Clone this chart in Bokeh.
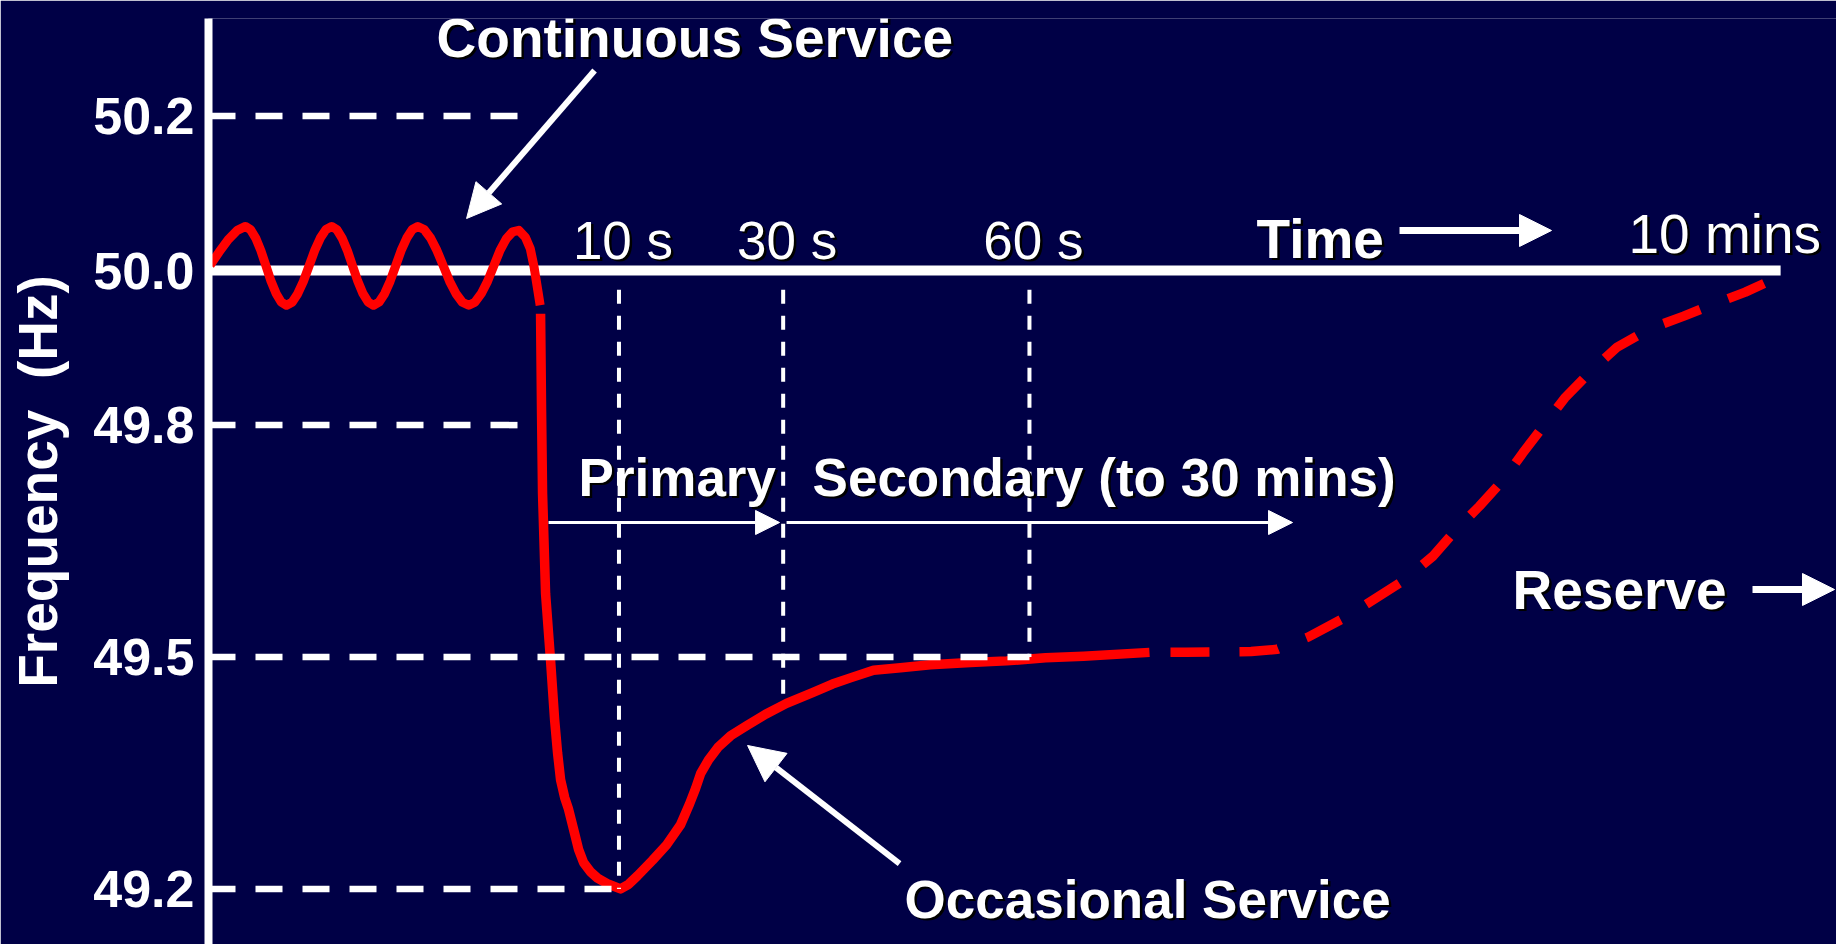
from bokeh.plotting import figure
from bokeh.models import (Range1d, FixedTicker, PrintfTickFormatter, LabelSet,
                          ColumnDataSource, Arrow, NormalHead)
from bokeh.embed import file_html
from bokeh.resources import INLINE
from bokeh.core.properties import value

# ---------------- data ----------------
# x is a schematic time position (seconds near the event, compressed afterwards)
osc_t = [-39.8, -38.7, -37.6, -36.5, -35.5,
         -34.88, -34.25, -33.63, -33.0, -32.38, -31.75, -31.13, -30.5,
         -29.81, -29.13, -28.44, -27.75, -27.06, -26.38, -25.69, -25.0,
         -24.36, -23.73, -23.09, -22.45, -21.81, -21.18, -20.54, -19.9,
         -19.23, -18.55, -17.88, -17.2, -16.53, -15.85, -15.18, -14.5,
         -13.73, -12.95, -12.18, -11.4, -10.63, -9.85, -9.08, -8.3,
         -7.54, -6.78, -6.01, -5.25, -4.49, -3.73, -2.96, -2.2,
         -1.4, -0.8, -0.35, 0.1, 0.4]
osc_hz = [50.007, 50.024, 50.040, 50.052, 50.057,
          50.053, 50.042, 50.026, 50.006, 49.986, 49.970, 49.959, 49.955,
          49.959, 49.970, 49.986, 50.006, 50.026, 50.042, 50.053, 50.057,
          50.053, 50.042, 50.026, 50.006, 49.986, 49.970, 49.959, 49.955,
          49.959, 49.970, 49.986, 50.006, 50.026, 50.042, 50.053, 50.057,
          50.053, 50.042, 50.026, 50.006, 49.986, 49.970, 49.959, 49.955,
          49.959, 49.970, 49.986, 50.006, 50.026, 50.041, 50.050, 50.052,
          50.043, 50.028, 50.005, 49.975, 49.955]

resp_t = [0.45, 0.57, 0.69, 1.06, 1.67, 2.16, 2.52, 2.89, 3.39, 3.86, 4.59, 5.08, 5.69,
          6.54, 7.39, 8.73, 10.19, 11.17, 12.26, 14.09, 15.80, 17.50, 18.60, 19.33, 19.94,
          20.91, 22.13, 23.59, 25.54, 27.86, 30.41, 33.58, 36.0, 38.19, 41.0, 44.29, 47.93,
          52.80, 57.21, 61.96, 66.59, 74.62]
resp_hz = [49.944, 49.817, 49.712, 49.582, 49.495, 49.419, 49.376, 49.341, 49.318, 49.303,
           49.272, 49.251, 49.234, 49.222, 49.214, 49.206, 49.200, 49.206, 49.217, 49.237,
           49.257, 49.283, 49.310, 49.330, 49.349, 49.367, 49.384, 49.398, 49.411, 49.426,
           49.440, 49.454, 49.465, 49.473, 49.483, 49.486, 49.490, 49.493, 49.495, 49.499,
           49.501, 49.506]

reserve_t = [74.62, 79.0, 87.0, 90.2, 94.0, 98.6, 105.6, 109.1, 111.9, 114.8, 117.7, 120.1,
             122.9, 125.2, 128.7, 131.6, 135.6, 139.7, 143.7, 147.2, 151.3]
reserve_hz = [49.506, 49.506, 49.507, 49.510, 49.526, 49.552, 49.599, 49.630, 49.664, 49.695,
              49.729, 49.764, 49.803, 49.835, 49.873, 49.901, 49.925, 49.941, 49.958, 49.972,
              49.992]

hz_ticks = [49.2, 49.5, 49.8, 50.0, 50.2]
hz_tick_labels = ["49.2", "49.5", "49.8", "50.0", "50.2"]

ref_hz = [50.2, 49.8, 49.5, 49.2]          # dashed reference levels
ref_end_t = [-1.9, -1.9, 60.0, 10.0]        # where each reference level stops

time_marks = [10, 30, 60]
time_labels = ["10 s", "30 s", "60 s"]
mark_low_hz = [49.2, 49.438, 49.5]          # where each time marker meets the curve
mark_top_hz = 49.975

end_t = 151.5
end_label = "10 mins"

# ---------------- layout helpers ----------------
BG = "#000046"
FONT = "Liberation Sans"
W, H = 1836, 944
T0, T1 = -40.0, 158.307
HZ0, HZ1 = 49.12808, 50.32601


def px_t(x):
    return (x - 536.3) / 8.21


def px_hz(y):
    return 50.0 - (y - 270.0) / 773.0


p = figure(width=W, height=H, output_backend="svg", toolbar_location=None,
           x_range=Range1d(T0, T1), y_range=Range1d(HZ0, HZ1),
           x_axis_location=None, y_axis_location="left",
           min_border_left=208, min_border_right=0, min_border_top=18, min_border_bottom=0,
           background_fill_color=BG, border_fill_color=BG, outline_line_color=None)
p.grid.visible = False

ax = p.yaxis[0]
ax.ticker = FixedTicker(ticks=hz_ticks)
ax.formatter = PrintfTickFormatter(format="%.1f")
ax.axis_line_color = "white"
ax.axis_line_width = 8
ax.major_tick_line_color = None
ax.minor_tick_line_color = None
ax.major_tick_out = 0
ax.major_tick_in = 0
ax.major_label_standoff = 14
ax.major_label_text_color = "white"
ax.major_label_text_font = FONT
ax.major_label_text_font_size = "52px"
ax.major_label_text_font_style = "bold"
ax.axis_label = "Frequency\u00a0 (Hz)"
ax.axis_label_text_color = "white"
ax.axis_label_text_font = FONT
ax.axis_label_text_font_size = "55px"
ax.axis_label_text_font_style = "bold"
ax.axis_label_standoff = 21

# tick label shadows (drawn beneath the axis)
tick_src = ColumnDataSource(dict(x=[T0] * len(hz_ticks), y=hz_ticks, text=hz_tick_labels))
p.add_layout(LabelSet(x="x", y="y", text="text", source=tick_src, level="underlay",
                      x_offset=-14 + 2.5, y_offset=-2.5, text_align="right",
                      text_baseline="middle", text_color="black", text_font=value(FONT),
                      text_font_size="52px", text_font_style="bold"))

# time axis (50.0 Hz line)
p.line([T0, end_t], [50.0, 50.0], line_color="white", line_width=10)

# frequency curve
p.line(osc_t, osc_hz, line_color="#FF0000", line_width=9, line_join="round")
p.line(resp_t, resp_hz, line_color="#FF0000", line_width=9.5, line_join="round")
p.line(reserve_t, reserve_hz, line_color="#FF0000", line_width=9.5, line_dash="39 30",
       line_dash_offset=48)

# dashed reference levels and time markers
p.segment(x0=[T0] * len(ref_hz), y0=ref_hz, x1=ref_end_t, y1=ref_hz,
          line_color="white", line_width=6.5, line_dash="27 20")
p.segment(x0=time_marks, y0=[mark_top_hz] * len(time_marks), x1=time_marks, y1=mark_low_hz,
          line_color="white", line_width=4, line_dash="14 12")


def add_labels(xs, ys, texts, size, bold=True, align="left", dx0=0):
    style = "bold" if bold else "normal"
    src = ColumnDataSource(dict(x=xs, y=ys, text=texts))
    for col, dx, dy in (("black", 2.5, -2.5), ("white", 0, 0)):
        p.add_layout(LabelSet(x="x", y="y", text="text", source=src,
                              x_offset=dx0 + dx, y_offset=dy, text_align=align,
                              text_baseline="alphabetic", text_color=col,
                              text_font=value(FONT), text_font_size=size,
                              text_font_style=style))


def add_text(xp, yp, text, size, bold=True):
    add_labels([px_t(xp)], [px_hz(yp)], [text], size, bold=bold)


# time marker labels
add_labels(time_marks, [px_hz(258)] * len(time_marks), time_labels, "53px",
           bold=False, align="center", dx0=4)

add_text(436, 56, "Continuous Service", "55px")
add_text(1256, 257, "Time", "55px")
add_text(1628, 252, end_label, "55px", bold=False)
add_text(578, 495, "Primary", "53px")
add_text(812, 495, "Secondary (to 30 mins)", "53px")
add_text(1512, 608, "Reserve", "55px")
add_text(904, 917, "Occasional Service", "53px")


def add_arrow(x0, y0, x1, y1, w, size):
    p.add_layout(Arrow(end=NormalHead(size=size, fill_color="white", line_color="white"),
                       x_start=px_t(x0), y_start=px_hz(y0), x_end=px_t(x1), y_end=px_hz(y1),
                       line_color="white", line_width=w))


add_arrow(594, 70, 466, 218, 6, 34)       # Continuous Service
add_arrow(899, 863, 747, 745, 6, 36)      # Occasional Service
add_arrow(1399, 230, 1551, 230, 7, 32)    # Time
add_arrow(1752, 589, 1834, 589, 7, 32)    # Reserve
add_arrow(548, 522, 779, 522, 3, 24)      # Primary
add_arrow(786, 522, 1292, 522, 3, 24)     # Secondary

open("out.html", "w").write(file_html(p, INLINE))
